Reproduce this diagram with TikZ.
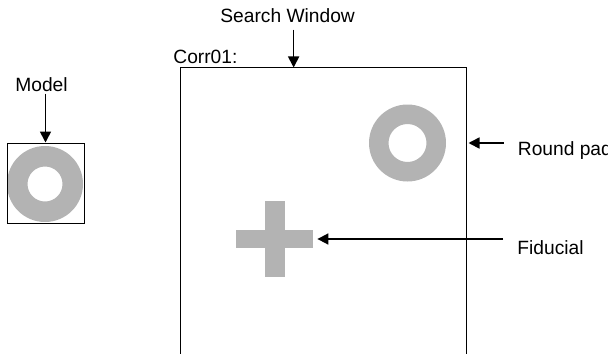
\documentclass[tikz,border=0pt]{standalone}
\usepackage{fontspec}
\setmainfont{Liberation Sans}
\usetikzlibrary{arrows.meta}
\definecolor{padgray}{HTML}{B3B3B3}
\tikzset{lbl/.style={font=\fontsize{9.6}{11}\selectfont,inner sep=0pt,anchor=base west},frame/.style={draw,line width=0.5pt,inner sep=0pt},arr/.style={-{Triangle[length=5.5pt,width=5.5pt]},line width=0.85pt},ring/.style={fill=padgray,even odd rule},bar/.style={fill=padgray,inner sep=0pt}}
\begin{document}
\begin{tikzpicture}[x=0.5pt,y=-0.5pt]
\useasboundingbox (0,0) rectangle (608,353);
% model
\node[lbl] (mlbl) at (15,91) {Model};
\node[circle,inner sep=0pt,minimum size=38pt] (mring) at (45,184) {};
\fill[ring] (mring.center) circle[radius=19pt] circle[radius=8.75pt];
\node[frame,minimum width=38.5pt,minimum height=40pt] (model) at (45.5,183) {};
\draw[arr,shorten <=1pt] (model.north |- mlbl.south) -- (model.north);
% search window
\node[lbl] (swlbl) at (220,23) {Search Window};
\node[lbl] (corr) at (173,63) {Corr01:};
\node[frame,minimum width=143pt,minimum height=176pt] (win) at (323,244) {};
\draw[arr,shorten <=3pt] ([xshift=3pt]swlbl.south) -- ([xshift=3pt]swlbl.south |- win.north);
% round pad
\node[circle,inner sep=0pt,minimum size=38.5pt] (pad) at (407.5,143) {};
\fill[ring] (pad.center) circle[radius=19.25pt] circle[radius=9.5pt];
\node[lbl] (padlbl) at (517.5,155) {Round pad};
\draw[arr] ([xshift=-7pt]padlbl.west |- pad) -- ([xshift=1pt]win.east |- pad);
% fiducial
\node[bar,minimum width=38.5pt,minimum height=9pt] (fidh) at (274.5,239) {};
\node[bar,minimum width=10pt,minimum height=38pt] (fidv) at (275,239) {};
\node[lbl] (fidlbl) at (517,254) {Fiducial};
\draw[arr] ([xshift=-7pt]fidlbl.west |- fidh) -- ([xshift=2pt]fidh.east);
\end{tikzpicture}
\end{document}
